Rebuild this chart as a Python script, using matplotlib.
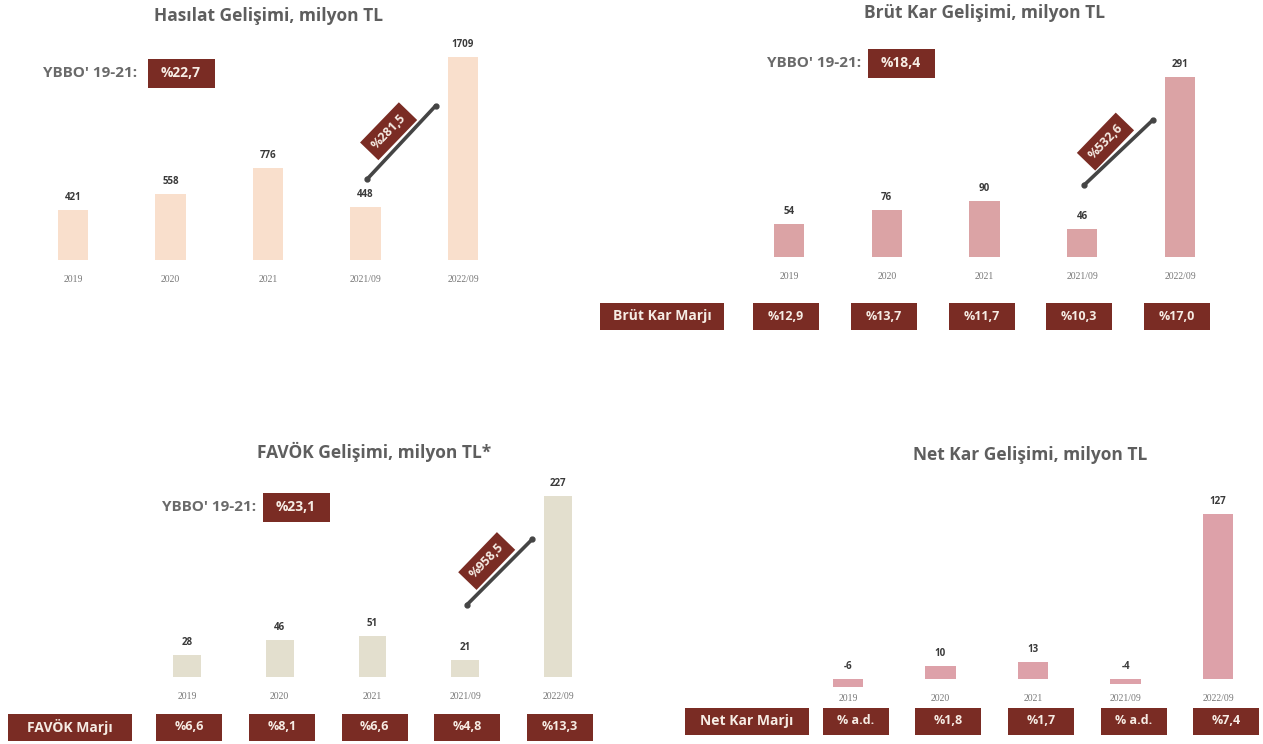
import matplotlib
matplotlib.use("Agg")
import matplotlib.pyplot as plt
from matplotlib.patches import Rectangle
from matplotlib.transforms import offset_copy

W, H = 1263, 744

years = ["2019", "2020", "2021", "2021/09", "2022/09"]

hasilat = [421, 558, 776, 448, 1709]
brut_kar = [54, 76, 90, 46, 291]
favok = [28, 46, 51, 21, 227]
net_kar = [-6, 10, 13, -4, 127]

brut_marj = ["%12,9", "%13,7", "%11,7", "%10,3", "%17,0"]
favok_marj = ["%6,6", "%8,1", "%6,6", "%4,8", "%13,3"]
net_marj = ["% a.d.", "%1,8", "%1,7", "% a.d.", "%7,4"]

ybbo_hasilat = "%22,7"
ybbo_brut = "%18,4"
ybbo_favok = "%23,1"

growth_hasilat = "%281,5"
growth_brut = "%532,6"
growth_favok = "%958,5"

MAROON = "#7a2c24"
BOX_TEXT = "#f6ece4"
TITLE_C = "#5e5e5e"

plt.rcParams["font.family"] = ["Open Sans", "DejaVu Sans"]

fig = plt.figure(figsize=(W / 100, H / 100), dpi=100)
fig.patch.set_facecolor("white")


def fx(px):
    return px / W


def fy(py):
    return 1 - py / H


def make_axes(c_first, c_last, base, top, vmax):
    sp = (c_last - c_first) / 4
    left = c_first - sp / 2
    scale = (base - top) / vmax
    lo, hi = base + 30, top - 30
    ax = fig.add_axes([fx(left), fy(lo), (sp * 5) / W, (lo - hi) / H])
    ax.set_xlim(-0.5, 4.5)
    ax.set_ylim(-30 / scale, vmax + 30 / scale)
    ax.axis("off")
    return ax


def draw_bars(ax, values, color, width=0.31):
    x = range(len(values))
    ax.bar(x, values, width=width, color=color, edgecolor="none")
    for i, v in enumerate(values):
        ax.annotate(str(v), (i, max(v, 0)), xytext=(0, 5), textcoords="offset points",
                    ha="center", va="bottom", fontsize=7, fontweight="bold", color="#3a3a3a")
        ax.annotate(years[i], (i, 0), xytext=(0, -14), textcoords="offset points",
                    ha="center", va="center", fontsize=7, color="#777777", family="Liberation Serif")


def box(cx, cy, w, h, text, fs=9.5):
    fig.add_artist(Rectangle((fx(cx - w / 2), fy(cy + h / 2)), w / W, h / H,
                             transform=fig.transFigure, facecolor=MAROON, edgecolor="none"))
    fig.text(fx(cx), fy(cy), text, ha="center", va="center", fontsize=fs,
             fontweight="bold", color=BOX_TEXT)


def margin_row(ax, labels, title, title_cx, cy, shift=0):
    box(title_cx, cy, 124, 27, title, fs=10)
    for i, t in enumerate(labels):
        px = ax.transData.transform((i, 0))[0] + shift
        box(px, cy, 66, 27, t, fs=9)


def ybbo(text_right, cx, cy, value):
    fig.text(fx(text_right), fy(cy), "YBBO' 19-21:", ha="right", va="center",
             fontsize=11, fontweight="bold", color="#6a6a6a")
    box(cx, cy, 67, 29, value, fs=10)


def growth(ax, values, label):
    vmax = max(values)
    x0, y0 = 3.02, 0.40 * vmax
    x1, y1 = 3.72, 0.76 * vmax
    ax.plot([x0, x1], [y0, y1], color="#454545", lw=2.6, solid_capstyle="round")
    ax.plot([x0, x1], [y0, y1], "o", color="#454545", ms=3.5)
    mx, my = (x0 + x1) / 2 - 0.02, (y0 + y1) / 2
    tr = offset_copy(ax.transData, fig=fig, x=-11, y=11, units="dots")
    ax.text(mx, my, label, transform=tr, rotation=46, rotation_mode="anchor",
            ha="center", va="center", fontsize=9, fontweight="bold", color=BOX_TEXT,
            bbox=dict(boxstyle="square,pad=0.5", facecolor=MAROON, edgecolor="none"))


# Hasılat
ax1 = make_axes(73, 463, 260, 57, max(hasilat))
draw_bars(ax1, hasilat, "#f9dfcc")
growth(ax1, hasilat, growth_hasilat)
fig.text(fx(269), fy(16), "Hasılat Gelişimi, milyon TL", ha="center", va="center",
         fontsize=12.5, fontweight="bold", color=TITLE_C)
ybbo(137, 181, 73, ybbo_hasilat)

# Brüt kar
ax2 = make_axes(789, 1180, 257, 77, max(brut_kar))
draw_bars(ax2, brut_kar, "#dba3a5")
growth(ax2, brut_kar, growth_brut)
fig.text(fx(984), fy(13), "Brüt Kar Gelişimi, milyon TL", ha="center", va="center",
         fontsize=12.5, fontweight="bold", color=TITLE_C)
ybbo(861, 901, 63, ybbo_brut)
margin_row(ax2, brut_marj, "Brüt Kar Marjı", 662, 316, shift=-3)

# FAVÖK
ax3 = make_axes(187, 558, 677, 496, max(favok))
draw_bars(ax3, favok, "#e3dfce", width=0.3)
growth(ax3, favok, growth_favok)
fig.text(fx(374), fy(452), "FAVÖK Gelişimi, milyon TL*", ha="center", va="center",
         fontsize=12.5, fontweight="bold", color=TITLE_C)
ybbo(256, 296, 507, ybbo_favok)
margin_row(ax3, favok_marj, "FAVÖK Marjı", 70, 727, shift=2)

# Net kar
ax4 = make_axes(848, 1218, 679, 514, max(net_kar))
draw_bars(ax4, net_kar, "#dda1a9", width=0.33)
fig.text(fx(1030), fy(455), "Net Kar Gelişimi, milyon TL", ha="center", va="center",
         fontsize=12.5, fontweight="bold", color=TITLE_C)
margin_row(ax4, net_marj, "Net Kar Marjı", 747, 721, shift=8)

fig.savefig("out.png", dpi=100, facecolor="white")
